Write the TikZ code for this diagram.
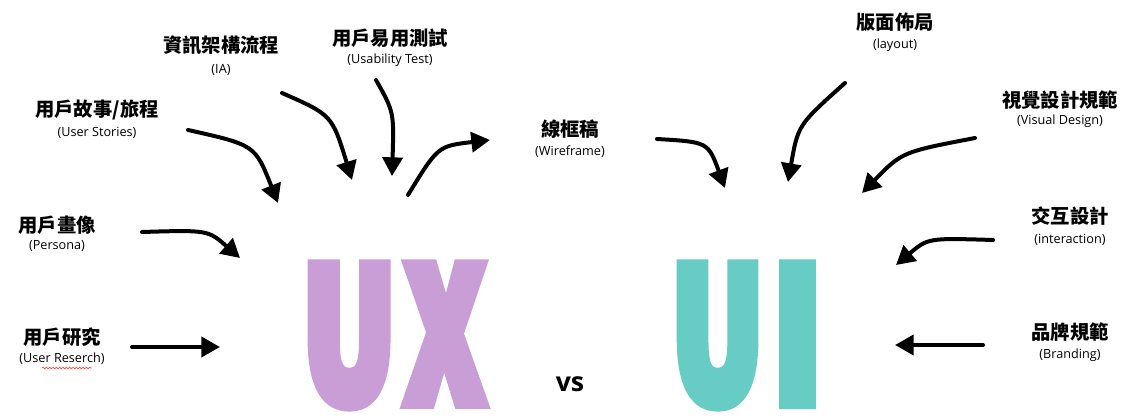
\documentclass[tikz,border=0pt]{standalone}
\usepackage{fontspec}
\setmainfont{Open Sans}
\newfontfamily\cjk{Noto Sans CJK TC}
\newfontfamily\bigfont{Noto Sans CJK TC Black}[FakeBold=9]
\usetikzlibrary{arrows.meta,decorations.pathmorphing}

\definecolor{uxpurple}{RGB}{201,158,214}
\definecolor{uiteal}{RGB}{102,204,196}

\tikzset{
  zh/.style={font=\cjk\bfseries\fontsize{14.5}{16}\selectfont,inner sep=0pt},
  en/.style={font=\fontsize{9.5}{10}\selectfont,inner sep=0pt},
  big/.style={anchor=base,inner sep=0pt,font=\bigfont\fontsize{134.5}{134.5}\selectfont},
  sketch/.style={line width=3pt,line cap=round,-{Triangle[length=14pt,width=15pt]}},
}

\begin{document}
\begin{tikzpicture}[x=0.75pt,y=-0.75pt]
\useasboundingbox (0,0) rectangle (1130,420);

% big letters
\node[big,text=uxpurple](uxU) at (349,401){\scalebox{0.67}[1]{U}};
\node[big,text=uxpurple](uxX) at (445,401){\scalebox{0.65}[1]{X}};
\node[big,text=uiteal](uiU) at (717.5,401){\scalebox{0.66}[1]{U}};
\node[big,text=uiteal](uiI) at (797.5,401){\scalebox{0.76}[1]{I}};
\node[font=\bfseries\fontsize{20}{20}\selectfont](vs) at (570,384){vs};

% UX side
\node[zh](stories) at (97,110){用戶故事/旅程};
\node[en](storiesEn) at (97,133){(User Stories)};
\node[zh](ia) at (221,45){資訊架構流程};
\node[en](iaEn) at (221,70){(IA)};
\node[zh](usability) at (390,38){用戶易用測試};
\node[en](usabilityEn) at (390,60){(Usability Test)};
\node[zh](wire) at (570,129){線框稿};
\node[en](wireEn) at (570,152){(Wireframe)};
\node[zh](persona) at (57,225){用戶畫像};
\node[en](personaEn) at (57,246){(Persona)};
\node[zh](research) at (62,337){用戶研究};
\node[en](researchEn) at (62,359){(User Reserch)};

% UI side
\node[zh](layout) at (895,22){版面佈局};
\node[en](layoutEn) at (895,45){(layout)};
\node[zh](visual) at (1060,100){視覺設計規範};
\node[en](visualEn) at (1060,121){(Visual Design)};
\node[zh](inter) at (1070,216){交互設計};
\node[en](interEn) at (1070,240){(interaction)};
\node[zh](brand) at (1070,332){品牌規範};
\node[en](brandEn) at (1070,355){(Branding)};

% spell check mark
\draw[red!75,line width=0.5pt,decorate,decoration={snake,amplitude=0.6pt,segment length=2.5pt}]
  (42,368) -- (92,368);

% arrow ends
\coordinate (storiesA) at (188,130);
\coordinate (storiesB) at (278,203);
\coordinate (iaA) at (282,93);
\coordinate (iaB) at (352,180);
\coordinate (usabilityA) at (376,80);
\coordinate (usabilityB) at (392,176);
\coordinate (wireA) at (408,195);
\coordinate (wireB) at (490,140);
\coordinate (personaA) at (142,232);
\coordinate (personaB) at (240,258);
\coordinate (researchA) at (132,347);
\coordinate (researchB) at (220,347);
\coordinate (wireC) at (657,139);
\coordinate (wireD) at (725,188);
\coordinate (layoutA) at (845,83);
\coordinate (layoutB) at (788,182);
\coordinate (visualA) at (975,138);
\coordinate (visualB) at (862,193);
\coordinate (interA) at (993,240);
\coordinate (interB) at (896,265);
\coordinate (brandA) at (983,345);
\coordinate (brandB) at (895,345);

\draw[sketch](storiesA) .. controls (255,145) .. (storiesB);
\draw[sketch](iaA) .. controls (332,115) .. (iaB);
\draw[sketch](usabilityA) .. controls (394,112) .. (usabilityB);
\draw[sketch](wireA) .. controls (438,146) .. (wireB);
\draw[sketch](personaA) .. controls (208,230) .. (personaB);
\draw[sketch](researchA) -- (researchB);
\draw[sketch](wireC) .. controls (708,142) .. (wireD);
\draw[sketch](layoutA) .. controls (798,125) .. (layoutB);
\draw[sketch](visualA) .. controls (902,152) .. (visualB);
\draw[sketch](interA) .. controls (928,238) .. (interB);
\draw[sketch](brandA) -- (brandB);
\end{tikzpicture}
\end{document}
